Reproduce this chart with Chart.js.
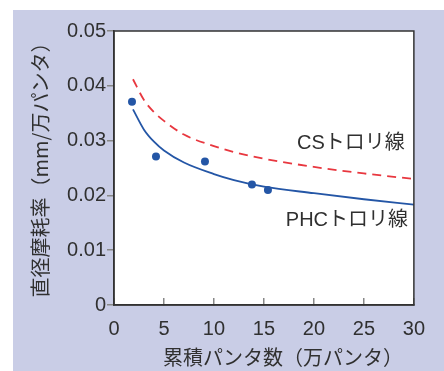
<!DOCTYPE html>
<html>
<head>
<meta charset="utf-8">
<script src="https://cdn.jsdelivr.net/npm/chart.js@4/dist/chart.umd.min.js"></script>
<style>
  html, body { margin: 0; padding: 0; background: #fff; }
  #wrap { position: absolute; left: 13px; top: 10px; width: 431px; height: 361px; background: #c9cde6; }
  canvas { display: block; }
</style>
</head>
<body>
<div id="wrap"><canvas id="wearChart" width="431" height="361"></canvas></div>
<script>
// measured points (PHC)
const measX = [1.8, 4.2, 9.1, 13.8, 15.4];
const measY = [0.0371, 0.0271, 0.0262, 0.0220, 0.0210];

// fitted curves
const curveX = [1.9, 3, 4, 5, 7, 10, 12, 15, 20, 25, 30];
const phcCurve = [0.0357, 0.0320, 0.0298, 0.0282, 0.0260, 0.0239, 0.0228, 0.0216, 0.0204, 0.0193, 0.0183];
const csCurve = [0.0412, 0.0374, 0.0352, 0.0336, 0.0311, 0.0290, 0.0279, 0.0267, 0.0252, 0.0240, 0.0230];

// curve names placed at data coordinates
const curveNames = ['CSトロリ線', 'PHCトロリ線'];
const nameX = [23.7, 23.3];
const nameY = [0.0294, 0.0155];

const xTitle = '累積パンタ数（万パンタ）';
const yTitle = '直径摩耗率（mm/万パンタ）';

const BLUE = '#2456a6';
const RED = '#e8373f';
const TEXT = '#303030';
const LATIN = "'Liberation Sans', Arial, sans-serif";
const MIXED = "'Liberation Sans', 'Noto Sans CJK JP', sans-serif";
const CJK = "'Noto Sans CJK JP', sans-serif";

const toXY = (xs, ys) => xs.map((x, i) => ({ x: x, y: ys[i] }));

// white plot area + frame + text annotations
const plotDecor = {
    id: 'plotDecor',
    beforeDraw(chart) {
        const { ctx, chartArea: a } = chart;
        ctx.save();
        ctx.fillStyle = '#fff';
        ctx.fillRect(a.left, a.top, a.right - a.left, a.bottom - a.top);
        ctx.restore();
    },
    afterDraw(chart) {
        const { ctx, chartArea: a, scales } = chart;
        ctx.save();
        ctx.strokeStyle = '#333';
        ctx.lineWidth = 1.5;
        ctx.strokeRect(a.left, a.top, a.right - a.left, a.bottom - a.top);

        ctx.fillStyle = TEXT;
        ctx.font = '20px ' + MIXED;
        ctx.textAlign = 'center';
        ctx.textBaseline = 'middle';
        curveNames.forEach((t, i) => {
            ctx.fillText(t, scales.x.getPixelForValue(nameX[i]), scales.y.getPixelForValue(nameY[i]));
        });

        // axis titles
        ctx.font = '20px ' + CJK;
        ctx.fillText(xTitle, 270, 347);
        ctx.translate(27, 155);
        ctx.rotate(-Math.PI / 2);
        ctx.fillText(yTitle, 0, 0);
        ctx.restore();
    }
};

const ctx = document.getElementById('wearChart').getContext('2d');
new Chart(ctx, {
    type: 'scatter',
    data: {
        datasets: [
            {
                label: 'CS',
                data: toXY(curveX, csCurve),
                showLine: true,
                borderColor: RED,
                borderWidth: 1.8,
                borderDash: [9, 6],
                pointRadius: 0,
                cubicInterpolationMode: 'monotone'
            },
            {
                label: 'PHC',
                data: toXY(curveX, phcCurve),
                showLine: true,
                borderColor: BLUE,
                borderWidth: 1.8,
                pointRadius: 0,
                cubicInterpolationMode: 'monotone'
            },
            {
                label: 'measured',
                data: toXY(measX, measY),
                showLine: false,
                pointRadius: 4,
                pointBackgroundColor: BLUE,
                pointBorderColor: BLUE,
                pointBorderWidth: 0
            }
        ]
    },
    options: {
        responsive: false,
        animation: false,
        layout: { padding: { top: 21, right: 22, left: 0, bottom: 0 } },
        plugins: {
            legend: { display: false },
            tooltip: { enabled: false }
        },
        scales: {
            x: {
                type: 'linear',
                min: 0,
                max: 30,
                afterFit: (s) => { s.height = 66; },
                border: { color: '#333', width: 1.5 },
                grid: { drawOnChartArea: false, tickLength: -7, color: '#888', lineWidth: 1.5 },
                ticks: {
                    stepSize: 5,
                    padding: 19,
                    color: TEXT,
                    font: { family: LATIN, size: 20 }
                }
            },
            y: {
                min: 0,
                max: 0.05,
                afterFit: (s) => { s.width = 101; },
                border: { color: '#333', width: 1.5 },
                grid: { drawOnChartArea: false, tickLength: 7, color: '#888', lineWidth: 1.5 },
                ticks: {
                    stepSize: 0.01,
                    padding: 1,
                    color: TEXT,
                    font: { family: LATIN, size: 20 },
                    callback: (v) => v === 0 ? '0' : v.toFixed(2)
                }
            }
        }
    },
    plugins: [plotDecor]
});
</script>
</body>
</html>
